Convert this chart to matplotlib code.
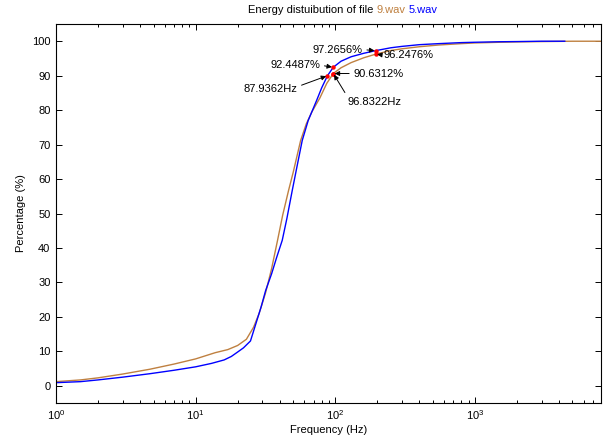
import matplotlib
matplotlib.use('Agg')
import matplotlib.pyplot as plt
from matplotlib.offsetbox import TextArea, HPacker, AnchoredOffsetbox
from matplotlib.ticker import LogLocator, FixedLocator

plt.rcParams['font.family'] = ['Liberation Sans', 'DejaVu Sans']
plt.rcParams['font.size'] = 8

BROWN = '#BF8040'
BLUE = '#0000FF'

# 9.wav cumulative energy (%)
freq_9 = [1, 1.5, 2, 3, 4.7, 7, 10, 13.8, 17, 20, 23.1, 26, 28.5, 31.7, 35,
          38.6, 42, 46.3, 50, 56.5, 62, 68, 77.5, 87, 96.83, 110, 130, 160,
          195, 250, 300, 400, 550, 800, 1000, 1500, 2000, 3000, 5000, 8000]
pct_9 = [1.2, 1.7, 2.3, 3.4, 4.8, 6.3, 7.8, 9.6, 10.5, 11.7, 13.5, 17, 21,
         27, 34, 42.2, 49.5, 56.7, 62, 71.2, 76, 79.5, 83.5, 87.8, 90.63,
         92.3, 93.8, 95.2, 96.25, 97.3, 97.8, 98.4, 98.9, 99.3, 99.5, 99.7,
         99.8, 99.9, 100, 100]

# 5.wav cumulative energy (%)
freq_5 = [1, 1.5, 2, 3, 4.7, 7, 10, 13, 16, 18, 20, 22, 24.7, 27, 29.5, 31.7,
          35, 38, 41.7, 45, 49.2, 53, 58, 64, 73.5, 80, 87.94, 96.83, 110,
          130, 160, 195, 250, 300, 400, 550, 800, 1000, 1500, 2000, 3000, 4400]
pct_5 = [0.9, 1.2, 1.7, 2.5, 3.5, 4.5, 5.5, 6.5, 7.5, 8.5, 9.8, 11.0, 13.0,
         18, 23, 27.6, 32.5, 37.2, 42.2, 48.5, 56.7, 63.3, 71.2, 77, 82.8,
         86.5, 90.0, 92.45, 94.2, 95.5, 96.5, 97.27, 98.1, 98.5, 99.0, 99.3,
         99.6, 99.7, 99.85, 99.9, 100, 100]

# marked points: (freq, pct, label, text offset px, ha, arrow relpos)
marks = [
    (195, 97.27, '97.2656%', (-13, 1), 'right', (1, 0.5)),
    (195, 96.25, '96.2476%', (8, -1), 'left', (0, 0.5)),
    (96.83, 92.45, '92.4487%', (-13, 2), 'right', (1, 0.5)),
    (96.83, 90.63, '90.6312%', (20, 0), 'left', (0, 0.5)),
    (87.94, 90.0, '87.9362Hz', (-30, -13), 'right', (1, 0.7)),
    (96.83, 90.63, '96.8322Hz', (14, -28), 'left', (0, 1.0)),
]

fig = plt.figure(figsize=(6.05, 4.43), dpi=100)
ax = fig.add_axes([56 / 605, 40 / 443, 545 / 605, 379 / 443])

ax.semilogx(freq_9, pct_9, color=BROWN, lw=1.0)
ax.semilogx(freq_5, pct_5, color=BLUE, lw=1.0)

for fx, py, lbl, off, ha, rp in marks:
    ax.plot(fx, py, 'o', color='red', markersize=3.2, markeredgewidth=0)
    ax.annotate(lbl, xy=(fx, py), xytext=off, textcoords='offset pixels',
                ha=ha, va='center', fontsize=8,
                arrowprops=dict(arrowstyle='-|>', color='black', lw=0.7,
                                mutation_scale=7, shrinkA=1, shrinkB=1,
                                relpos=rp))

ax.set_xlim(1, 8000)
ax.set_ylim(-5, 105)
ax.yaxis.set_major_locator(FixedLocator(range(0, 101, 10)))
ax.xaxis.set_major_locator(LogLocator(base=10, numticks=10))
ax.xaxis.set_minor_locator(LogLocator(base=10, subs=range(2, 10), numticks=20))
ax.tick_params(which='both', direction='in', top=True, right=True,
               labelsize=8, width=0.7)
ax.tick_params(which='major', length=4, pad=4)
ax.tick_params(which='minor', length=2.3)
for sp in ax.spines.values():
    sp.set_linewidth(0.8)

ax.set_xlabel('Frequency (Hz)', fontsize=8, labelpad=2)
ax.set_ylabel('Percentage (%)', fontsize=8, labelpad=4)

parts = [
    TextArea('Energy distuibution of file', textprops=dict(color='black', size=8)),
    TextArea('9.wav', textprops=dict(color=BROWN, size=8)),
    TextArea('5.wav', textprops=dict(color=BLUE, size=8)),
]
box = HPacker(children=parts, align='baseline', pad=0, sep=2.2)
title = AnchoredOffsetbox(loc='center', child=box, pad=0, borderpad=0,
                          frameon=False, bbox_to_anchor=(343 / 605, 1 - 10 / 443),
                          bbox_transform=fig.transFigure)
fig.add_artist(title)

fig.savefig('out.png', dpi=100)
